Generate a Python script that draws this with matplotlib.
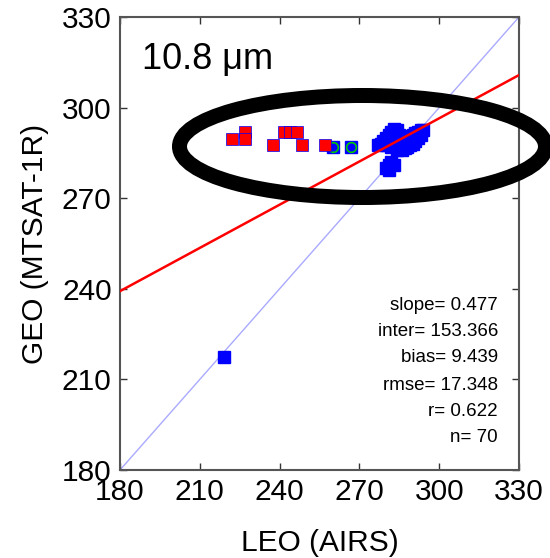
import matplotlib
matplotlib.use("Agg")
import matplotlib.pyplot as plt
from matplotlib.patches import Ellipse
import numpy as np

plt.rcParams['font.family'] = ['Liberation Sans', 'DejaVu Sans']

# data
blue_x = [277, 278, 279, 280, 281, 282, 283, 284, 285, 284, 283, 282, 285, 286, 287, 288,
          289, 290, 291, 292, 293, 292, 291, 290, 289, 288, 286, 284, 280, 287, 293, 294,
          280, 281, 282, 281, 283, 219, 260, 267]
blue_y = [287.5, 288, 289, 290, 291, 292, 293, 292.5, 291, 289, 288, 287, 287, 288, 289, 290,
          290.5, 291, 291.5, 292, 292.5, 290, 289, 288, 287.5, 287, 286, 286, 287.5, 286.5, 291, 292.5,
          280, 281, 282, 279.5, 281, 217.5, 287, 287]
green_x = [260, 267]
green_y = [287, 287]
red_x = [222, 227, 227, 237.5, 241.5, 244, 246.5, 248.3, 257]
red_y = [289.5, 292, 289.5, 287.5, 292, 292, 292, 287.5, 287.5]

slope = 0.477
inter = 153.366
stats = ["slope= 0.477", "inter= 153.366", "bias= 9.439", "rmse= 17.348", "r= 0.622", "n= 70"]
ticks = [180, 210, 240, 270, 300, 330]
lims = [180, 330]

W, H = 550, 558
fig = plt.figure(figsize=(5.5, 5.58), dpi=100)
ax = fig.add_axes([120 / W, 1 - 470 / H, (519 - 120) / W, (470 - 17) / H])

ax.plot(lims, lims, color='#aaaaff', lw=1.0, zorder=1)
xx = np.array(lims)
ax.plot(xx, slope * xx + inter, color='red', lw=1.8, zorder=4)

ax.plot(blue_x, blue_y, 's', color='blue', ms=8, mec='blue', mew=1.0, zorder=2)
ax.plot(green_x, green_y, 'o', mfc='none', mec='#00cc00', ms=7, mew=1.2, zorder=3)
ax.plot(red_x, red_y, 's', color='red', ms=8, mec='blue', mew=0.5, zorder=3)

ax.set_xlim(lims)
ax.set_ylim(lims)
ax.set_xticks(ticks)
ax.set_yticks(ticks)
ax.tick_params(direction='in', length=5, width=1, top=True, right=True,
               labelsize=21.5, pad=6, colors='#333333', labelcolor='black')
for s in ax.spines.values():
    s.set_color('#555555')
    s.set_linewidth(1.5)

ax.set_xlabel('LEO (AIRS)', fontsize=21.5, labelpad=16)
ax.set_ylabel('GEO (MTSAT-1R)', fontsize=21.5, labelpad=9)

ax.text(0.055, 0.885, '10.8 \u03bcm', transform=ax.transAxes, fontsize=26,
        ha='left', va='baseline')

ys = [305, 332, 358, 385, 412, 438]
for t, yp in zip(stats, ys):
    fig.text(498 / W, 1 - yp / H, t, fontsize=13.5, ha='right', va='center')

ell = Ellipse((362.5 / W, 1 - 146.5 / H), 366 / W, 102 / H, transform=fig.transFigure,
              fill=False, ec='black', lw=10.8, zorder=10, clip_on=False)
fig.add_artist(ell)

fig.savefig('out.png', dpi=100)
